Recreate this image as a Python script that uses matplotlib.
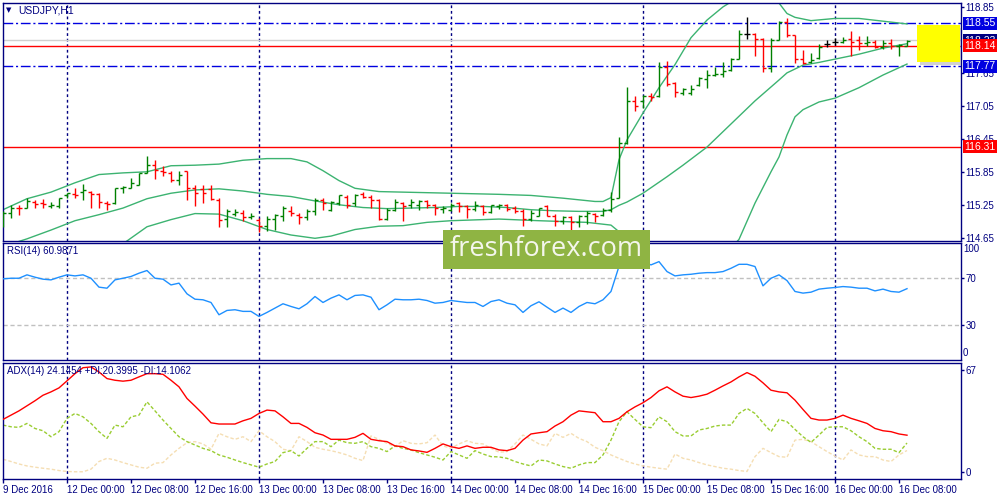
"""USDJPY H1 chart (MT4 style): bars + Bollinger bands, RSI(14), ADX(14)."""

import matplotlib
matplotlib.use("Agg")
import matplotlib.pyplot as plt
import numpy as np
from matplotlib.patches import Rectangle

plt.rcParams.update({
    "font.family": ["Liberation Sans", "DejaVu Sans"],
    "font.size": 7,
})

# ── colours ──────────────────────────────────────────────────────
NAVY = "#000080"
BULL = "#008000"
BEAR = "#FF0000"
DOJI = "#000000"
BB = "#3CB371"
LEVEL_BLUE = "#0000E0"
LEVEL_RED = "#FF0000"
RSI_C = "#1E90FF"
ADX_C = "#FF0000"
PDI_C = "#9ACD32"
MDI_C = "#F5DEB3"

# ── price bars (hourly, 9 Dec 16:00 .. 16 Dec 09:00) ─────────────
opens = [
    115.07, 115.10, 115.20, 115.20, 115.30, 115.28, 115.23, 115.22, 115.43, 115.44,
    115.49, 115.49, 115.44, 115.28, 115.28, 115.56, 115.56, 115.61, 115.83, 115.97,
    115.86, 115.83, 115.70, 115.86, 115.55, 115.53, 115.53, 115.34, 115.00, 115.08,
    115.10, 115.02, 114.98, 114.87, 115.00, 115.05, 115.14, 115.07, 115.02, 115.14,
    115.34, 115.16, 115.28, 115.40, 115.28, 115.44, 115.40, 115.34, 115.00, 115.16,
    115.28, 115.25, 115.25, 115.31, 115.25, 115.18, 115.16, 115.28, 115.22, 115.18,
    115.22, 115.12, 115.22, 115.25, 115.19, 115.13, 115.00, 115.05, 115.22, 115.05,
    114.96, 115.02, 114.94, 115.05, 115.08, 115.07, 115.16, 115.38, 116.37, 117.14,
    117.13, 117.23, 117.22, 117.76, 117.46, 117.28, 117.28, 117.43, 117.53, 117.61,
    117.63, 117.70, 117.90, 118.36, 118.36, 118.26, 117.74, 118.25, 118.58, 118.34,
    117.90, 117.84, 117.92, 118.18, 118.21, 118.22, 118.26, 118.24, 118.20, 118.22,
    118.12, 118.19, 118.13, 118.14,
]
highs = [
    115.13, 115.25, 115.25, 115.38, 115.34, 115.36, 115.30, 115.38, 115.47, 115.55,
    115.63, 115.50, 115.46, 115.31, 115.56, 115.60, 115.73, 115.83, 116.13, 116.07,
    115.95, 115.87, 115.87, 115.87, 115.61, 115.61, 115.61, 115.37, 115.18, 115.18,
    115.16, 115.10, 115.01, 115.04, 115.08, 115.22, 115.22, 115.10, 115.17, 115.38,
    115.38, 115.31, 115.43, 115.42, 115.44, 115.48, 115.43, 115.36, 115.19, 115.36,
    115.30, 115.36, 115.34, 115.34, 115.26, 115.22, 115.28, 115.30, 115.24, 115.32,
    115.25, 115.25, 115.26, 115.26, 115.22, 115.18, 115.16, 115.20, 115.25, 115.08,
    115.05, 115.05, 115.07, 115.13, 115.10, 115.19, 115.48, 116.48, 117.39, 117.23,
    117.25, 117.29, 117.85, 117.87, 117.49, 117.37, 117.43, 117.58, 117.70, 117.76,
    117.85, 117.92, 118.43, 118.67, 118.37, 118.28, 118.28, 118.60, 118.64, 118.34,
    118.07, 118.01, 118.18, 118.24, 118.28, 118.31, 118.42, 118.32, 118.32, 118.24,
    118.25, 118.26, 118.18, 118.25,
]
lows = [
    114.84, 115.01, 115.07, 115.19, 115.19, 115.19, 115.20, 115.20, 115.37, 115.37,
    115.34, 115.20, 115.20, 115.16, 115.26, 115.46, 115.55, 115.61, 115.83, 115.72,
    115.77, 115.67, 115.61, 115.34, 115.22, 115.28, 115.34, 114.85, 114.85, 115.04,
    114.95, 115.00, 114.75, 114.78, 114.80, 114.96, 115.05, 114.90, 114.98, 115.07,
    115.16, 115.13, 115.25, 115.19, 115.22, 115.38, 115.19, 114.98, 114.98, 115.13,
    114.95, 115.20, 115.16, 115.20, 115.07, 115.10, 115.13, 115.12, 115.01, 115.13,
    115.07, 115.10, 115.18, 115.14, 115.10, 114.87, 114.96, 115.04, 115.04, 114.87,
    114.90, 114.78, 114.85, 114.90, 114.94, 115.04, 115.12, 115.38, 116.36, 116.95,
    117.01, 117.13, 117.21, 117.41, 117.21, 117.25, 117.25, 117.41, 117.37, 117.60,
    117.57, 117.69, 117.90, 118.26, 117.96, 117.66, 117.66, 118.25, 118.31, 117.83,
    117.81, 117.83, 117.90, 118.12, 118.16, 118.20, 117.95, 118.07, 118.13, 118.10,
    118.08, 118.08, 117.96, 118.14,
]
closes = [
    115.10, 115.19, 115.19, 115.32, 115.27, 115.26, 115.25, 115.37, 115.46, 115.42,
    115.52, 115.44, 115.30, 115.26, 115.56, 115.58, 115.64, 115.83, 115.97, 115.89,
    115.85, 115.70, 115.80, 115.55, 115.46, 115.46, 115.35, 114.98, 115.13, 115.11,
    115.02, 115.05, 114.87, 115.00, 115.07, 115.19, 115.10, 115.02, 115.14, 115.34,
    115.28, 115.30, 115.42, 115.24, 115.43, 115.40, 115.34, 115.00, 115.16, 115.30,
    115.22, 115.30, 115.31, 115.24, 115.19, 115.20, 115.25, 115.22, 115.18, 115.25,
    115.12, 115.24, 115.25, 115.18, 115.13, 115.00, 115.10, 115.19, 115.05, 114.96,
    115.02, 114.94, 115.04, 115.10, 115.05, 115.16, 115.36, 116.37, 117.14, 117.05,
    117.22, 117.21, 117.75, 117.45, 117.31, 117.35, 117.35, 117.55, 117.61, 117.63,
    117.69, 117.90, 118.36, 118.36, 118.26, 117.74, 118.25, 118.58, 118.34, 117.90,
    117.83, 117.89, 118.12, 118.18, 118.21, 118.25, 118.22, 118.20, 118.22, 118.12,
    118.19, 118.13, 118.16, 118.23,
]

# ── Bollinger bands, read at sample bars ─────────────────────────
bb_up_idx = [0, 3, 6, 9, 12, 15, 18, 21, 24, 27, 30, 33, 36, 38, 40, 42, 44, 47, 50,
             56, 62, 66, 70, 74, 75, 76, 77, 78, 80, 82, 84, 86, 88, 90, 92, 94, 96,
             97, 98, 99, 101, 104, 107, 110, 113]
bb_up = [115.16, 115.36, 115.48, 115.65, 115.80, 115.83, 115.85, 115.96, 115.97,
         115.99, 116.06, 116.09, 116.09, 116.03, 115.87, 115.69, 115.55, 115.49,
         115.48, 115.46, 115.44, 115.42, 115.37, 115.31, 115.31, 115.38, 116.07,
         116.43, 116.92, 117.38, 117.80, 118.29, 118.61, 118.85, 119.03, 119.12,
         119.01, 118.92, 118.73, 118.66, 118.60, 118.64, 118.64, 118.59, 118.54]
bb_mid_idx = [0, 3, 6, 9, 12, 15, 18, 21, 24, 27, 30, 33, 36, 39, 42, 45, 48, 51, 54,
              57, 60, 63, 66, 69, 72, 75, 76, 77, 78, 80, 83, 85, 88, 91, 94, 97, 98,
              100, 102, 104, 107, 110, 113]
bb_mid = [114.49, 114.63, 114.79, 114.96, 115.07, 115.19, 115.36, 115.46, 115.52,
          115.54, 115.50, 115.44, 115.40, 115.32, 115.25, 115.20, 115.18, 115.19,
          115.20, 115.22, 115.22, 115.20, 115.16, 115.14, 115.13, 115.13, 115.16,
          115.24, 115.30, 115.46, 115.76, 115.97, 116.30, 116.72, 117.14, 117.52,
          117.65, 117.79, 117.84, 117.90, 117.99, 118.10, 118.18]
bb_low_idx = [0, 6, 12, 15, 18, 21, 24, 27, 30, 33, 36, 39, 41, 44, 47, 50, 53, 56,
              62, 67, 73, 76, 77, 78, 80, 84, 88, 90, 92, 94, 96, 97, 98, 99, 100,
              102, 104, 107, 110, 113]
bb_low = [114.16, 114.29, 114.43, 114.54, 114.85, 114.98, 115.09, 115.08, 114.96,
          114.80, 114.70, 114.64, 114.68, 114.80, 114.86, 114.87, 114.93, 114.96,
          114.99, 114.96, 114.93, 114.88, 114.76, 114.52, 114.05, 113.95, 114.00,
          114.30, 114.62, 115.28, 115.85, 116.12, 116.52, 116.85, 116.98, 117.12,
          117.19, 117.38, 117.61, 117.81]

# ── horizontal levels and zone ───────────────────────────────────
blue_levels = [118.55, 117.77]
red_levels = [118.14, 116.31]
bid_price = 118.23
bid_line = 118.25
zone_lo, zone_hi = 117.85, 118.52
price_ticks = [118.85, 117.65, 117.05, 116.45, 115.85, 115.25, 114.65]

# ── RSI(14) ─────────────────────────────────────────────────────
rsi = [
    69.4, 69.9, 69.9, 72.8, 70.8, 69.1, 68.5, 70.8, 72.8, 71.9,
    72.8, 69.9, 62.3, 61.4, 68.5, 69.9, 71.4, 74.2, 76.5, 69.9,
    69.1, 64.2, 65.7, 56.6, 52.0, 51.5, 49.2, 38.7, 42.4, 43.0,
    41.6, 41.6, 37.3, 40.7, 44.4, 48.1, 45.8, 43.8, 48.1, 54.3,
    49.2, 52.9, 55.7, 51.5, 55.2, 55.7, 53.7, 43.0, 47.2, 52.0,
    51.5, 51.5, 52.0, 50.9, 48.6, 49.2, 50.9, 50.0, 49.2, 49.2,
    45.8, 50.0, 51.5, 48.6, 47.2, 40.7, 46.4, 49.8, 45.2, 40.7,
    44.4, 40.7, 45.8, 49.2, 48.1, 51.5, 58.6, 80.0, 88.0, 82.0,
    84.0, 81.3, 84.1, 75.6, 71.9, 72.8, 73.3, 74.2, 74.7, 74.7,
    75.6, 78.4, 81.8, 81.8, 79.9, 63.4, 69.9, 72.8, 67.9, 58.6,
    57.2, 58.0, 60.6, 61.4, 62.0, 62.8, 62.3, 61.4, 61.4, 59.1,
    60.6, 58.6, 58.0, 60.99,
]

# ── ADX(14), +DI, -DI ───────────────────────────────────────────
adx = [
    34.4, 37.2, 40.0, 43.3, 46.6, 50.2, 52.4, 55.0, 59.6, 64.3,
    68.2, 68.7, 65.4, 61.1, 60.0, 59.4, 60.0, 62.2, 64.3, 64.3,
    63.9, 60.0, 55.7, 48.1, 43.1, 37.9, 32.2, 31.4, 31.4, 31.4,
    33.5, 35.1, 38.3, 40.5, 40.0, 36.1, 31.8, 31.8, 29.2, 25.7,
    24.2, 21.4, 21.4, 21.4, 22.7, 25.3, 21.4, 20.5, 19.9, 17.1,
    16.6, 14.5, 13.8, 12.9, 15.5, 18.4, 16.6, 15.5, 17.1, 15.5,
    16.2, 16.2, 14.5, 14.0, 15.5, 20.9, 24.9, 25.7, 26.4, 30.1,
    32.9, 37.2, 40.0, 39.4, 38.8, 32.9, 32.9, 35.1, 39.4, 42.6,
    45.3, 48.7, 53.1, 55.7, 52.4, 49.6, 48.7, 49.6, 50.9, 53.5,
    56.3, 58.9, 62.2, 65.0, 62.6, 58.3, 53.5, 52.4, 51.8, 47.0,
    40.9, 35.1, 34.0, 34.0, 35.1, 37.2, 35.1, 33.5, 31.8, 28.5,
    27.0, 26.4, 24.9, 24.1,
]
plus_di = [
    30.7, 29.6, 29.2, 31.8, 28.5, 27.0, 23.1, 26.4, 35.1, 38.3,
    36.1, 31.8, 26.4, 22.0, 30.7, 29.6, 36.1, 37.2, 45.9, 40.0,
    34.0, 28.5, 23.1, 19.9, 17.7, 15.5, 14.0, 11.2, 9.7, 7.9,
    6.2, 4.7, 3.2, 5.3, 6.9, 12.7, 14.0, 10.5, 15.5, 19.9,
    19.9, 16.6, 20.9, 19.2, 18.8, 19.9, 16.6, 15.5, 13.4, 17.1,
    15.5, 14.5, 12.7, 11.2, 9.7, 7.9, 13.4, 11.2, 9.0, 14.0,
    11.8, 10.1, 9.9, 9.0, 6.9, 5.3, 4.0, 7.9, 7.3, 5.3,
    3.6, 2.5, 4.7, 6.2, 6.2, 11.2, 20.9, 32.9, 39.4, 34.4,
    29.6, 29.0, 36.1, 32.9, 26.4, 23.6, 23.6, 27.5, 28.5, 30.1,
    30.7, 30.7, 38.3, 41.6, 38.3, 32.2, 26.4, 34.4, 32.9, 27.9,
    23.1, 19.4, 24.2, 29.2, 29.6, 29.6, 27.0, 23.1, 19.9, 15.5,
    14.9, 14.9, 12.7, 19.0,
]
minus_di = [
    8.4, 6.9, 5.3, 4.0, 3.2, 2.5, 1.9, 1.0, 0.4, 0.2,
    0.2, 1.9, 6.9, 9.0, 7.9, 6.2, 4.7, 3.2, 2.5, 5.8,
    6.2, 11.2, 15.5, 19.2, 19.9, 18.4, 14.9, 25.3, 23.1, 21.4,
    23.1, 19.9, 27.0, 23.1, 19.9, 14.9, 14.0, 23.1, 19.9, 16.2,
    14.9, 14.0, 12.7, 11.2, 9.0, 7.5, 23.6, 21.4, 18.8, 16.6,
    20.5, 18.8, 18.4, 19.2, 24.2, 17.1, 15.5, 18.4, 20.5, 18.8,
    18.4, 15.5, 13.0, 13.4, 18.4, 24.2, 21.4, 18.4, 17.1, 25.3,
    22.7, 25.3, 22.0, 19.9, 16.2, 14.0, 11.2, 9.0, 6.9, 5.3,
    4.0, 3.2, 2.5, 1.9, 11.8, 9.0, 7.9, 6.2, 4.7, 3.6,
    2.5, 1.9, 1.0, 0.4, 10.1, 15.5, 12.7, 10.1, 9.7, 20.9,
    21.4, 19.9, 16.6, 13.4, 10.5, 7.9, 14.5, 11.2, 10.1, 10.1,
    7.9, 6.9, 11.2, 14.1,
]

# ── time axis ───────────────────────────────────────────────────
day_starts = [8, 32, 56, 80, 104]
time_tick_idx = list(range(0, 113, 8))
time_tick_labels = [
    "9 Dec 2016", "12 Dec 00:00", "12 Dec 08:00", "12 Dec 16:00",
    "13 Dec 00:00", "13 Dec 08:00", "13 Dec 16:00", "14 Dec 00:00",
    "14 Dec 08:00", "14 Dec 16:00", "15 Dec 00:00", "15 Dec 08:00",
    "15 Dec 16:00", "16 Dec 00:00", "16 Dec 08:00",
]

W, H = 1000, 500


def px_rect(left, top, right, bottom):
    return [left / W, 1 - bottom / H, (right - left) / W, (bottom - top) / H]


def fig_xy(x, y):
    return x / W, 1 - y / H


fig = plt.figure(figsize=(10, 5), dpi=100)
ax = fig.add_axes(px_rect(2.5, 2.5, 961, 240.5))
ax_rsi = fig.add_axes(px_rect(2.5, 243, 961, 359.5))
ax_adx = fig.add_axes(px_rect(2.5, 362.5, 961, 478.5))

for a in (ax, ax_rsi, ax_adx):
    a.set_xlim(-0.06, 119.75)
    for s in a.spines.values():
        s.set_color(NAVY)
        s.set_linewidth(1)
    a.yaxis.tick_right()
    a.tick_params(axis="y", colors=NAVY, length=2.5, width=1, pad=0.8, labelsize=7)
    a.tick_params(axis="x", bottom=False, labelbottom=False)
    for d in day_starts:
        a.axvline(d, color=NAVY, lw=1, ls=(0, (2, 2)), zorder=1)

# ── main price panel ─────────────────────────────────────────────
ax.set_ylim(114.60, 118.93)
ax.set_yticks(price_ticks)
ax.set_yticklabels([f"{v:.2f}" for v in price_ticks])

ax.axhline(bid_line, color="#D0D0D0", lw=1, zorder=1)
for lvl in blue_levels:
    ax.axhline(lvl, color=LEVEL_BLUE, lw=1, ls=(0, (7, 2, 1.5, 2)), zorder=1.5)
for lvl in red_levels:
    ax.axhline(lvl, color=LEVEL_RED, lw=1, zorder=1.5)

ax.plot(bb_up_idx, bb_up, color=BB, lw=1, zorder=2)
ax.plot(bb_mid_idx, bb_mid, color=BB, lw=1, zorder=2)
ax.plot(bb_low_idx, bb_low, color=BB, lw=1, zorder=2)

idx = np.arange(len(opens))
o = np.array(opens)
c = np.array(closes)
bar_cols = [BULL if cc > oo else BEAR if cc < oo else DOJI for oo, cc in zip(o, c)]
ax.vlines(idx, lows, highs, colors=bar_cols, lw=1, zorder=3)
ax.hlines(o, idx - 0.4, idx, colors=bar_cols, lw=1, zorder=3)
ax.hlines(c, idx, idx + 0.4, colors=bar_cols, lw=1, zorder=3)

# highlighted zone with a soft shadow
ax.add_patch(Rectangle((114.65, zone_lo - 0.055), 5.35, zone_hi - zone_lo,
                       facecolor="#9A9A9A", alpha=0.45, edgecolor="none", zorder=4))
ax.add_patch(Rectangle((114.25, zone_lo), 5.35, zone_hi - zone_lo,
                       facecolor="#FFFF00", edgecolor="none", zorder=5))

# price boxes on the right scale
ytr = ax.get_yaxis_transform()
box_labels = [
    (bid_price, NAVY, 6),
    (118.55, LEVEL_BLUE, 7),
    (117.77, LEVEL_BLUE, 7),
    (118.14, LEVEL_RED, 8),
    (116.31, LEVEL_RED, 8),
]
for val, col, z in box_labels:
    ax.text(1.0035, val, f"{val:.2f}", transform=ytr, ha="left", va="center",
            color="white", fontsize=7.5, clip_on=False, zorder=z,
            bbox=dict(boxstyle="square,pad=0.15", fc=col, ec=col, lw=0))

# ── RSI panel ────────────────────────────────────────────────────
ax_rsi.set_ylim(0.5, 100)
ax_rsi.plot(idx, rsi, color=RSI_C, lw=1, zorder=3)
for lvl in (70, 30):
    ax_rsi.axhline(lvl, color="#C0C0C0", lw=1, ls=(0, (3, 2)), zorder=1)
ax_rsi.set_yticks([70, 30])
ax_rsi.set_yticklabels(["70", "30"])
ax_rsi.text(1.0022, 0.946, "100", transform=ax_rsi.transAxes, ha="left",
            va="center", color=NAVY, fontsize=7, clip_on=False)
ax_rsi.text(1.0022, 0.053, "0", transform=ax_rsi.transAxes, ha="left",
            va="center", color=NAVY, fontsize=7, clip_on=False)

# ── ADX panel ────────────────────────────────────────────────────
ax_adx.set_ylim(-4.2, 71.6)
ax_adx.plot(idx, minus_di, color=MDI_C, lw=1, ls=(0, (2.5, 1.5)), zorder=2)
ax_adx.plot(idx, plus_di, color=PDI_C, lw=1, ls=(0, (2.5, 1.5)), zorder=2)
ax_adx.plot(idx, adx, color=ADX_C, lw=1, zorder=3)
ax_adx.set_yticks([67, 0])
ax_adx.set_yticklabels(["67", "0"])

ax_adx.set_xticks(time_tick_idx)
ax_adx.set_xticklabels(time_tick_labels)
ax_adx.tick_params(axis="x", bottom=True, labelbottom=True, colors=NAVY,
                   length=3, width=1, pad=2, labelsize=7)
for lab in ax_adx.get_xticklabels():
    lab.set_ha("left")

# ── panel captions ───────────────────────────────────────────────
fig.text(*fig_xy(6, 10.5), "\u25BC", fontsize=5, color=NAVY,
         family=["DejaVu Sans"], va="center", ha="left")
fig.text(*fig_xy(18, 10.5), "USDJPY,H1", fontsize=7.5, color=NAVY, va="center")
fig.text(*fig_xy(7, 251.5), "RSI(14) 60.9871", fontsize=7, color=NAVY, va="center")
fig.text(*fig_xy(7, 371.5), "ADX(14) 24.1454 +DI:20.3995 -DI:14.1062",
         fontsize=7, color=NAVY, va="center")

# ── watermark ────────────────────────────────────────────────────
fig.patches.append(Rectangle(fig_xy(443, 269), 207 / W, 39 / H,
                             transform=fig.transFigure, facecolor="#8FB443",
                             edgecolor="none", zorder=10))
fig.text(*fig_xy(546.5, 249), "freshforex.com", fontsize=19.5,
         family=["Open Sans", "DejaVu Sans"], color="#F4F6EC",
         ha="center", va="center", zorder=11)

fig.savefig("out.png", dpi=100)
